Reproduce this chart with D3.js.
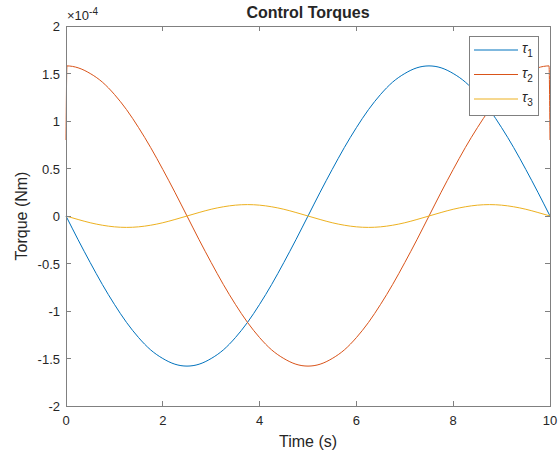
<!DOCTYPE html>
<html>
<head>
<meta charset="utf-8">
<script src="https://cdn.jsdelivr.net/npm/d3@7"></script>
<style>
  body { margin: 0; background: #fff; }
  text { font-family: "Liberation Sans", Arial, sans-serif; fill: #262626; }
</style>
</head>
<body>
<script>
// values, in units of 1e-4 Nm
var times = [0, 0.02, 0.25, 0.5, 0.75, 1, 1.25, 1.5, 1.75, 2, 2.25, 2.5, 2.75, 3, 3.25, 3.5, 3.75, 4, 4.25, 4.5, 4.75,
  5, 5.25, 5.5, 5.75, 6, 6.25, 6.5, 6.75, 7, 7.25, 7.5, 7.75, 8, 8.25, 8.5, 8.75, 9, 9.25, 9.5, 9.75, 9.98, 10];

var tau1 = [0, -0.02, -0.25, -0.49, -0.72, -0.93, -1.12, -1.28, -1.41, -1.50, -1.56, -1.58, -1.56, -1.50, -1.41, -1.28, -1.12, -0.93, -0.72, -0.49, -0.25,
  0, 0.25, 0.49, 0.72, 0.93, 1.12, 1.28, 1.41, 1.50, 1.56, 1.58, 1.56, 1.50, 1.41, 1.28, 1.12, 0.93, 0.72, 0.49, 0.25, 0.02, 0];

var tau2 = [0.80, 1.58, 1.56, 1.50, 1.41, 1.28, 1.12, 0.93, 0.72, 0.49, 0.25, 0, -0.25, -0.49, -0.72, -0.93, -1.12, -1.28, -1.41, -1.50, -1.56,
  -1.58, -1.56, -1.50, -1.41, -1.28, -1.12, -0.93, -0.72, -0.49, -0.25, 0, 0.25, 0.49, 0.72, 0.93, 1.12, 1.28, 1.41, 1.50, 1.56, 1.58, 0.80];

var tau3 = [0, -0.003, -0.037, -0.071, -0.097, -0.114, -0.120, -0.114, -0.097, -0.071, -0.037, 0, 0.037, 0.071, 0.097, 0.114, 0.120, 0.114, 0.097, 0.071, 0.037,
  0, -0.037, -0.071, -0.097, -0.114, -0.120, -0.114, -0.097, -0.071, -0.037, 0, 0.037, 0.071, 0.097, 0.114, 0.120, 0.114, 0.097, 0.071, 0.037, 0.003, 0];

var seriesNames = ["1", "2", "3"];
var seriesColors = ["#0072BD", "#D95319", "#EDB120"];
var xTicks = [0, 2, 4, 6, 8, 10];
var yTicks = [-2, -1.5, -1, -0.5, 0, 0.5, 1, 1.5, 2];

var width = 559, height = 457;
var margin = {top: 26, right: 9, bottom: 51, left: 66};

var x = d3.scaleLinear().domain([0, 10]).range([margin.left, width - margin.right]);
var y = d3.scaleLinear().domain([-2, 2]).range([height - margin.bottom, margin.top]);

var svg = d3.select("body").append("svg")
    .attr("width", width)
    .attr("height", height);

var series = [tau1, tau2, tau3];

var line = d3.line()
    .x((d, i) => x(times[i]))
    .y(d => y(d))
    .curve(d3.curveMonotoneX);

svg.append("g")
  .selectAll("path")
  .data(series)
  .join("path")
    .attr("fill", "none")
    .attr("stroke", (d, i) => seriesColors[i])
    .attr("stroke-width", 1)
    .attr("d", line);

// box + inward ticks on all sides
var axisColor = "#808080";
var tl = 5;
var axes = svg.append("g").attr("shape-rendering", "crispEdges");

axes.append("rect")
    .attr("x", x(0)).attr("y", y(2))
    .attr("width", x(10) - x(0)).attr("height", y(-2) - y(2))
    .attr("fill", "none").attr("stroke", axisColor);

xTicks.forEach(t => {
  axes.append("line").attr("x1", x(t)).attr("x2", x(t))
      .attr("y1", y(-2)).attr("y2", y(-2) - tl).attr("stroke", axisColor);
  axes.append("line").attr("x1", x(t)).attr("x2", x(t))
      .attr("y1", y(2)).attr("y2", y(2) + tl).attr("stroke", axisColor);
});
yTicks.forEach(t => {
  axes.append("line").attr("x1", x(0)).attr("x2", x(0) + tl)
      .attr("y1", y(t)).attr("y2", y(t)).attr("stroke", axisColor);
  axes.append("line").attr("x1", x(10)).attr("x2", x(10) - tl)
      .attr("y1", y(t)).attr("y2", y(t)).attr("stroke", axisColor);
});

svg.append("g")
  .selectAll("text")
  .data(xTicks)
  .join("text")
    .attr("x", d => x(d))
    .attr("y", y(-2) + 19)
    .attr("text-anchor", "middle")
    .attr("font-size", 13)
    .text(d => d);

svg.append("g")
  .selectAll("text")
  .data(yTicks)
  .join("text")
    .attr("x", x(0) - 6)
    .attr("y", d => y(d) + 5)
    .attr("text-anchor", "end")
    .attr("font-size", 13)
    .text(d => d);

// exponent
var expo = svg.append("text")
    .attr("x", x(0) + 1)
    .attr("y", y(2) - 6)
    .attr("font-size", 13);
expo.append("tspan").text("\u00d710");
expo.append("tspan").attr("font-size", 10).attr("dy", -5).text("-4");

svg.append("text")
    .attr("x", (x(0) + x(10)) / 2)
    .attr("y", 18)
    .attr("text-anchor", "middle")
    .attr("font-size", 16)
    .attr("font-weight", "bold")
    .text("Control Torques");

svg.append("text")
    .attr("x", (x(0) + x(10)) / 2)
    .attr("y", 447)
    .attr("text-anchor", "middle")
    .attr("font-size", 16)
    .text("Time (s)");

svg.append("text")
    .attr("transform", `translate(27,${(y(2) + y(-2)) / 2}) rotate(-90)`)
    .attr("text-anchor", "middle")
    .attr("font-size", 16)
    .text("Torque (Nm)");

// legend
var legend = svg.append("g").attr("transform", "translate(469,36)");
legend.append("rect")
    .attr("width", 69).attr("height", 79)
    .attr("fill", "#fff").attr("stroke", "#808080")
    .attr("shape-rendering", "crispEdges");

var item = legend.selectAll("g")
  .data(seriesNames)
  .join("g")
    .attr("transform", (d, i) => `translate(0,${14 + i * 24.5})`);

item.append("line")
    .attr("x1", 5).attr("x2", 49)
    .attr("stroke", (d, i) => seriesColors[i])
    .attr("stroke-width", 1);

var lt = item.append("text")
    .attr("x", 53)
    .attr("y", 3)
    .attr("font-size", 14);
lt.append("tspan").attr("font-style", "italic").text("\u03c4");
lt.append("tspan").attr("font-size", 10).attr("dy", 4).text(d => d);
</script>
</body>
</html>
